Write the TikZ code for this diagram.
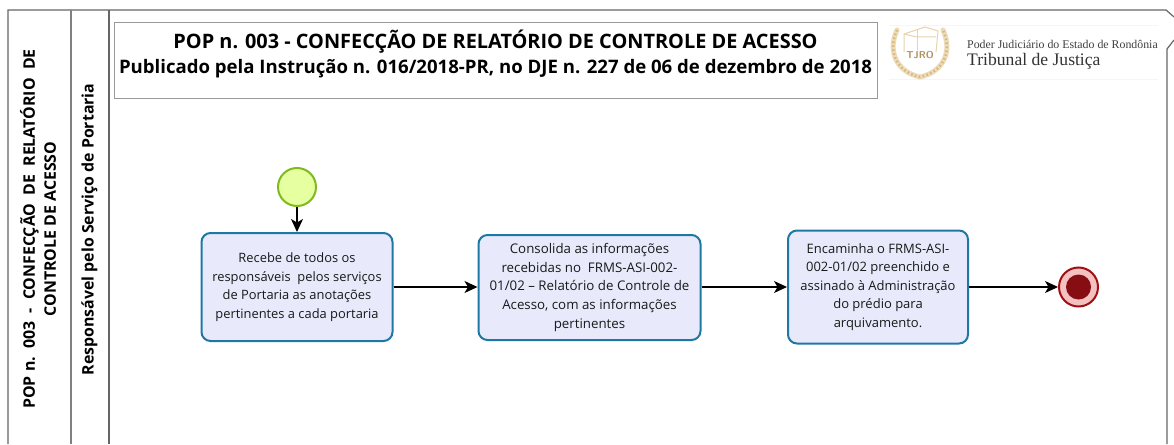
\documentclass[tikz,border=0pt]{standalone}
\usepackage{fontspec}
\setmainfont{Open Sans}
\newfontfamily\logofont{Liberation Serif}
\usetikzlibrary{arrows.meta}

\definecolor{taskfill}{HTML}{E8EAFB}
\definecolor{taskline}{HTML}{1F78A4}
\definecolor{startfill}{HTML}{E6FFA0}
\definecolor{startline}{HTML}{7FBA1E}
\definecolor{endline}{HTML}{9E1015}
\definecolor{endring}{HTML}{F4C0C0}
\definecolor{goldline}{HTML}{D9B676}

\tikzset{
  lane/.style={draw=black!60, line width=1.2pt},
  task/.style={draw=taskline, fill=taskfill, line width=2pt, rounded corners=9pt,
    align=center, inner sep=0pt, text=black!90},
  flow/.style={draw=black, line width=1.2pt, -{Stealth[length=13pt,width=12pt,inset=3.5pt]}},
  lanetext/.style={rotate=90, align=center, font=\fontsize{15.9}{21}\selectfont\bfseries},
}

\begin{document}
\begin{tikzpicture}[x=1pt, y=-1pt]
  \useasboundingbox (0,0) rectangle (1174,444);
  \fill[white] (0,0) rectangle (1174,444);

  % Lanes
  \draw[lane] (8,444) -- (8,10) -- (1166,10) -- (1174,17);
  \draw[lane] (1174,40) -- (1167,49) -- (1167,444);
  \draw[lane, draw=black!50] (71,10) -- (71,444);
  \draw[lane] (109,10) -- (109,444);

  \node[lanetext] (pool) at (38,229) {POP n.\ \ 003\ \ -\ \ CONFECÇÃO\ \ DE\ \ RELATÓRIO\ \ DE\\CONTROLE DE ACESSO};
  \node[lanetext] (lane) at (89.5,229.5) {Responsável pelo Serviço de Portaria};

  % Title
  \node[draw=black!40, line width=0.9pt, minimum width=763pt, minimum height=76pt] (titlebox) at (495.5,60) {};
  \node[font=\fontsize{19.9}{25}\selectfont\bfseries, align=center] (title) at (495.5,54)
    {POP n. 003 - CONFECÇÃO DE RELATÓRIO DE CONTROLE DE ACESSO\\
     {\fontsize{18.6}{25}\selectfont Publicado pela Instrução n. 016/2018-PR, no DJE n. 227 de 06 de dezembro de 2018}};

  % Logo
  \draw[black!4, line width=0.8pt] (889,25) -- (1158,25);
  \draw[black!4, line width=0.8pt] (889,79) -- (1158,79);
  \draw[goldline!50, line width=5pt, line cap=round] (897,30) .. controls (887,52) and (897,72) .. (920,77)
    .. controls (943,72) and (953,52) .. (943,30);
  \draw[goldline, line width=2.5pt, dash pattern=on 1.5pt off 2.5pt] (897,30) .. controls (887,52) and (897,72) .. (920,77)
    .. controls (943,72) and (953,52) .. (943,30);
  \draw[goldline!60, line width=1pt] (904,52) -- (904,34) -- (925,27) -- (938,31) -- (936,52);
  \draw[goldline!60, line width=1pt] (917,30) -- (917,52);
  \draw[goldline!60, line width=1pt] (904,34) -- (917,37) -- (936,37);
  \node[fill=white, rounded corners=3pt, inner sep=1pt, text=goldline!80!black, font=\fontsize{10}{12}\selectfont\sffamily\bfseries] (tjro) at (920,55) {TJRO};
  \node[anchor=west, inner sep=0pt, text=black!75, font=\logofont\fontsize{11.85}{12}\selectfont] (court) at (967,44) {Poder Judiciário do Estado de Rondônia};
  \node[anchor=west, inner sep=0pt, text=black!80, font=\logofont\fontsize{17.6}{18}\selectfont] (tribunal) at (967,61) {Tribunal de Justiça};

  % Nodes
  \node[circle, draw=startline, fill=startfill, line width=2pt, minimum size=38pt, inner sep=0pt] (start) at (297,187) {};
  \node[task, minimum width=191pt, minimum height=108pt, font=\fontsize{12.9}{18.6}\selectfont] (receive) at (297,287)
    {Recebe de todos os\\responsáveis\ \ pelos serviços\\de Portaria as anotações\\pertinentes a cada portaria};
  \node[task, minimum width=222pt, minimum height=105pt, font=\fontsize{13.3}{18.6}\selectfont] (merge) at (589.5,287.5)
    {Consolida as informações\\recebidas no\ \ FRMS-ASI-002-\\01/02 -- Relatório de Controle de\\Acesso, com as informações\\pertinentes};
  \node[task, minimum width=180pt, minimum height=113pt, font=\fontsize{13}{18.6}\selectfont] (forward) at (878,287)
    {Encaminha o FRMS-ASI-\\002-01/02 preenchido e\\assinado à Administração\\do prédio para\\arquivamento.};
  \node[circle, draw=endline, fill=endring, line width=2pt, minimum size=39pt, inner sep=0pt] (finish) at (1078.5,287) {};
  \node[circle, fill=endline!85!black, minimum size=25pt, inner sep=0pt] (finishdot) at (finish) {};

  % Connect the nodes
  \draw[flow] (start) -- (receive);
  \draw[flow] (receive.east |- forward) -- (merge.west |- forward);
  \draw[flow] (merge.east |- forward) -- (forward);
  \draw[flow] (forward) -- (finish);
\end{tikzpicture}
\end{document}
